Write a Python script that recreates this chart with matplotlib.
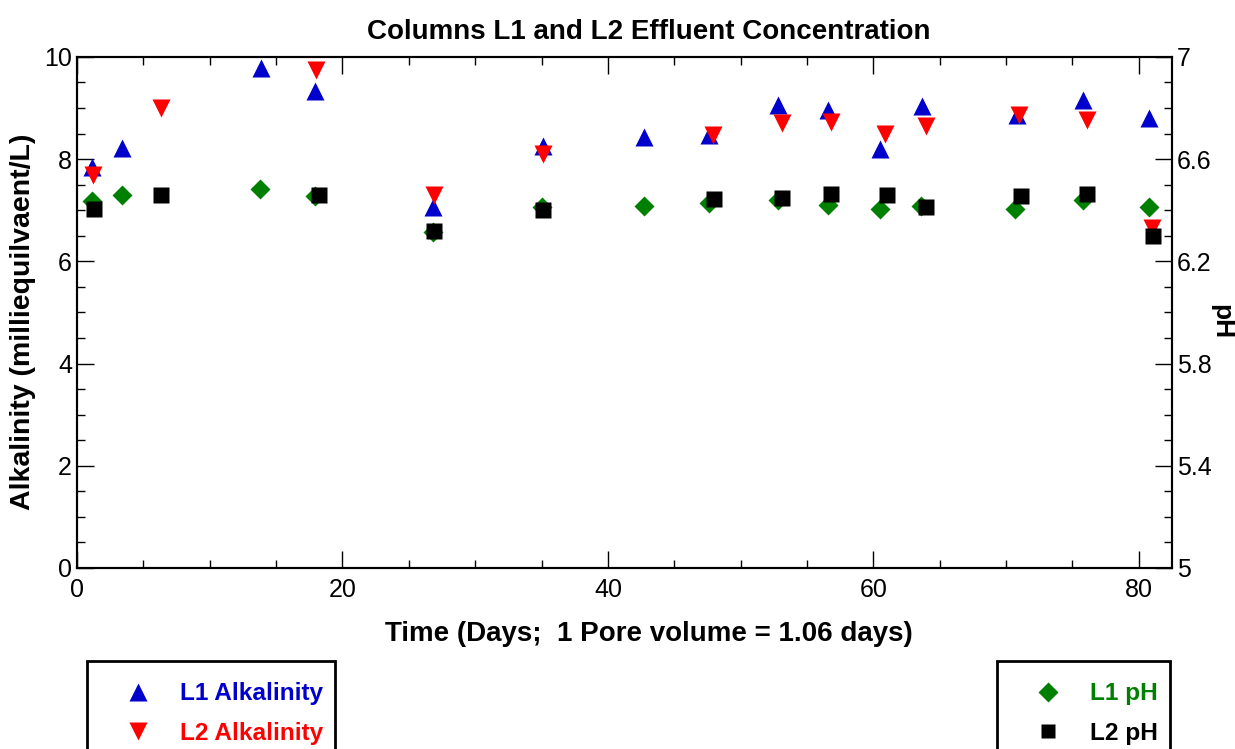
import matplotlib
matplotlib.use("Agg")
import matplotlib.pyplot as plt
from matplotlib.ticker import MultipleLocator
from matplotlib.patches import Rectangle
from matplotlib.lines import Line2D

plt.rcParams['font.family'] = ['Liberation Sans', 'DejaVu Sans']

# -----------------------------
# Data
# -----------------------------
l1_alk_days = [1.1, 3.4, 13.9, 17.9, 26.8, 35.1, 42.7, 47.6, 52.8, 56.6, 60.5, 63.7, 70.8, 75.8, 80.8]
l1_alk = [7.85, 8.22, 9.78, 9.33, 7.06, 8.26, 8.43, 8.47, 9.06, 8.96, 8.20, 9.04, 8.86, 9.16, 8.80]

l2_alk_days = [1.2, 6.3, 18.0, 26.9, 35.1, 47.9, 53.1, 56.8, 60.9, 64.0, 71.0, 76.1, 81.0]
l2_alk = [7.69, 9.00, 9.75, 7.30, 8.10, 8.47, 8.70, 8.73, 8.49, 8.65, 8.86, 8.77, 6.65]

l1_ph_days = [1.1, 3.4, 13.8, 17.9, 26.8, 35.0, 42.7, 47.6, 52.8, 56.6, 60.5, 63.6, 70.7, 75.8, 80.8]
l1_ph = [6.436, 6.46, 6.483, 6.456, 6.315, 6.413, 6.417, 6.43, 6.44, 6.42, 6.405, 6.417, 6.405, 6.44, 6.413]

l2_ph_days = [1.3, 6.3, 18.2, 26.9, 35.1, 48.0, 53.1, 56.8, 61.0, 64.0, 71.1, 76.1, 81.1]
l2_ph = [6.405, 6.46, 6.46, 6.32, 6.40, 6.444, 6.448, 6.464, 6.46, 6.413, 6.456, 6.464, 6.30]

BLUE = '#0000cc'
RED = '#ff0000'
GREEN = '#008000'
BLACK = '#000000'

fig = plt.figure(figsize=(12.35, 7.49), dpi=100)
ax = fig.add_axes([0.0623, 0.2417, 0.8867, 0.6823])
ax2 = ax.twinx()

ax.plot(l1_alk_days, l1_alk, ls='none', marker='^', ms=13, color=BLUE, mec='none', zorder=3)
ax.plot(l2_alk_days, l2_alk, ls='none', marker='v', ms=13, color=RED, mec='none', zorder=3)
ax2.plot(l1_ph_days, l1_ph, ls='none', marker='D', ms=10.5, color=GREEN, mec='none', zorder=3)
ax2.plot(l2_ph_days, l2_ph, ls='none', marker='s', ms=11.5, color=BLACK, mec='none', zorder=4)

ax.set_xlim(0, 82.5)
ax.set_ylim(0, 10)
ax2.set_ylim(5, 7)

ax.xaxis.set_major_locator(MultipleLocator(20))
ax.xaxis.set_minor_locator(MultipleLocator(5))
ax.yaxis.set_major_locator(MultipleLocator(2))
ax.yaxis.set_minor_locator(MultipleLocator(0.5))
ax2.set_yticks([5, 5.4, 5.8, 6.2, 6.6, 7])
ax2.set_yticklabels(['5', '5.4', '5.8', '6.2', '6.6', '7'])
ax2.yaxis.set_minor_locator(MultipleLocator(0.1))

ax.tick_params(axis='x', which='both', direction='in', top=True, labelsize=18, pad=7)
ax.tick_params(axis='y', which='both', direction='in', right=False, labelsize=18)
ax.tick_params(which='major', length=12, width=1)
ax.tick_params(which='minor', length=6, width=1)
ax2.tick_params(axis='y', which='both', direction='in', labelsize=18)
ax2.tick_params(which='major', length=12, width=1)
ax2.tick_params(which='minor', length=6, width=1)

for a in (ax, ax2):
    for s in a.spines.values():
        s.set_linewidth(1.5)

# title and x label sit a little right of the axes centre in the original
ax.set_title("Columns L1 and L2 Effluent Concentration", fontsize=20, fontweight='bold',
             x=0.522, pad=13)
ax.set_xlabel("Time (Days;  1 Pore volume = 1.06 days)", fontsize=20, fontweight='bold')
ax.xaxis.set_label_coords(0.522, -0.104)
ax.xaxis.label.set_va('top')
fig.text(23 / 1235, 1 - 322 / 749, "Alkalinity (milliequilvaent/L)", fontsize=20.5,
         fontweight='bold', rotation=90, ha='center', va='center')
fig.text(1221 / 1235, 1 - 322 / 749, "pH", fontsize=19, fontweight='bold',
         rotation=270, ha='center', va='center')

# -----------------------------
# Legend boxes below the plot
# -----------------------------
fig.patches.append(Rectangle((87 / 1235, -0.05), 248 / 1235, 0.05 + 88 / 749,
                             transform=fig.transFigure, fill=False, ec='black', lw=2))
fig.patches.append(Rectangle((997 / 1235, -0.05), 173 / 1235, 0.05 + 88 / 749,
                             transform=fig.transFigure, fill=False, ec='black', lw=2))

left_handles = [
    Line2D([], [], ls='none', marker='^', ms=12.5, color=BLUE, mec='none'),
    Line2D([], [], ls='none', marker='v', ms=12.5, color=RED, mec='none'),
]
right_handles = [
    Line2D([], [], ls='none', marker='D', ms=10.5, color=GREEN, mec='none'),
    Line2D([], [], ls='none', marker='s', ms=10.5, color=BLACK, mec='none'),
]
leg_props = dict(size=17.6, weight='bold')
fig.legend(left_handles, ['L1 Alkalinity', 'L2 Alkalinity'], loc='upper left',
           bbox_to_anchor=(107 / 1235, 1 - 670 / 749), frameon=False, prop=leg_props,
           labelcolor=[BLUE, RED], handletextpad=1.0, labelspacing=0.67, borderpad=0, handlelength=1.5)
fig.legend(right_handles, ['L1 pH', 'L2 pH'], loc='upper left',
           bbox_to_anchor=(1017 / 1235, 1 - 670 / 749), frameon=False, prop=leg_props,
           labelcolor=[GREEN, BLACK], handletextpad=1.0, labelspacing=0.67, borderpad=0, handlelength=1.5)

fig.savefig("out.png", dpi=100)
